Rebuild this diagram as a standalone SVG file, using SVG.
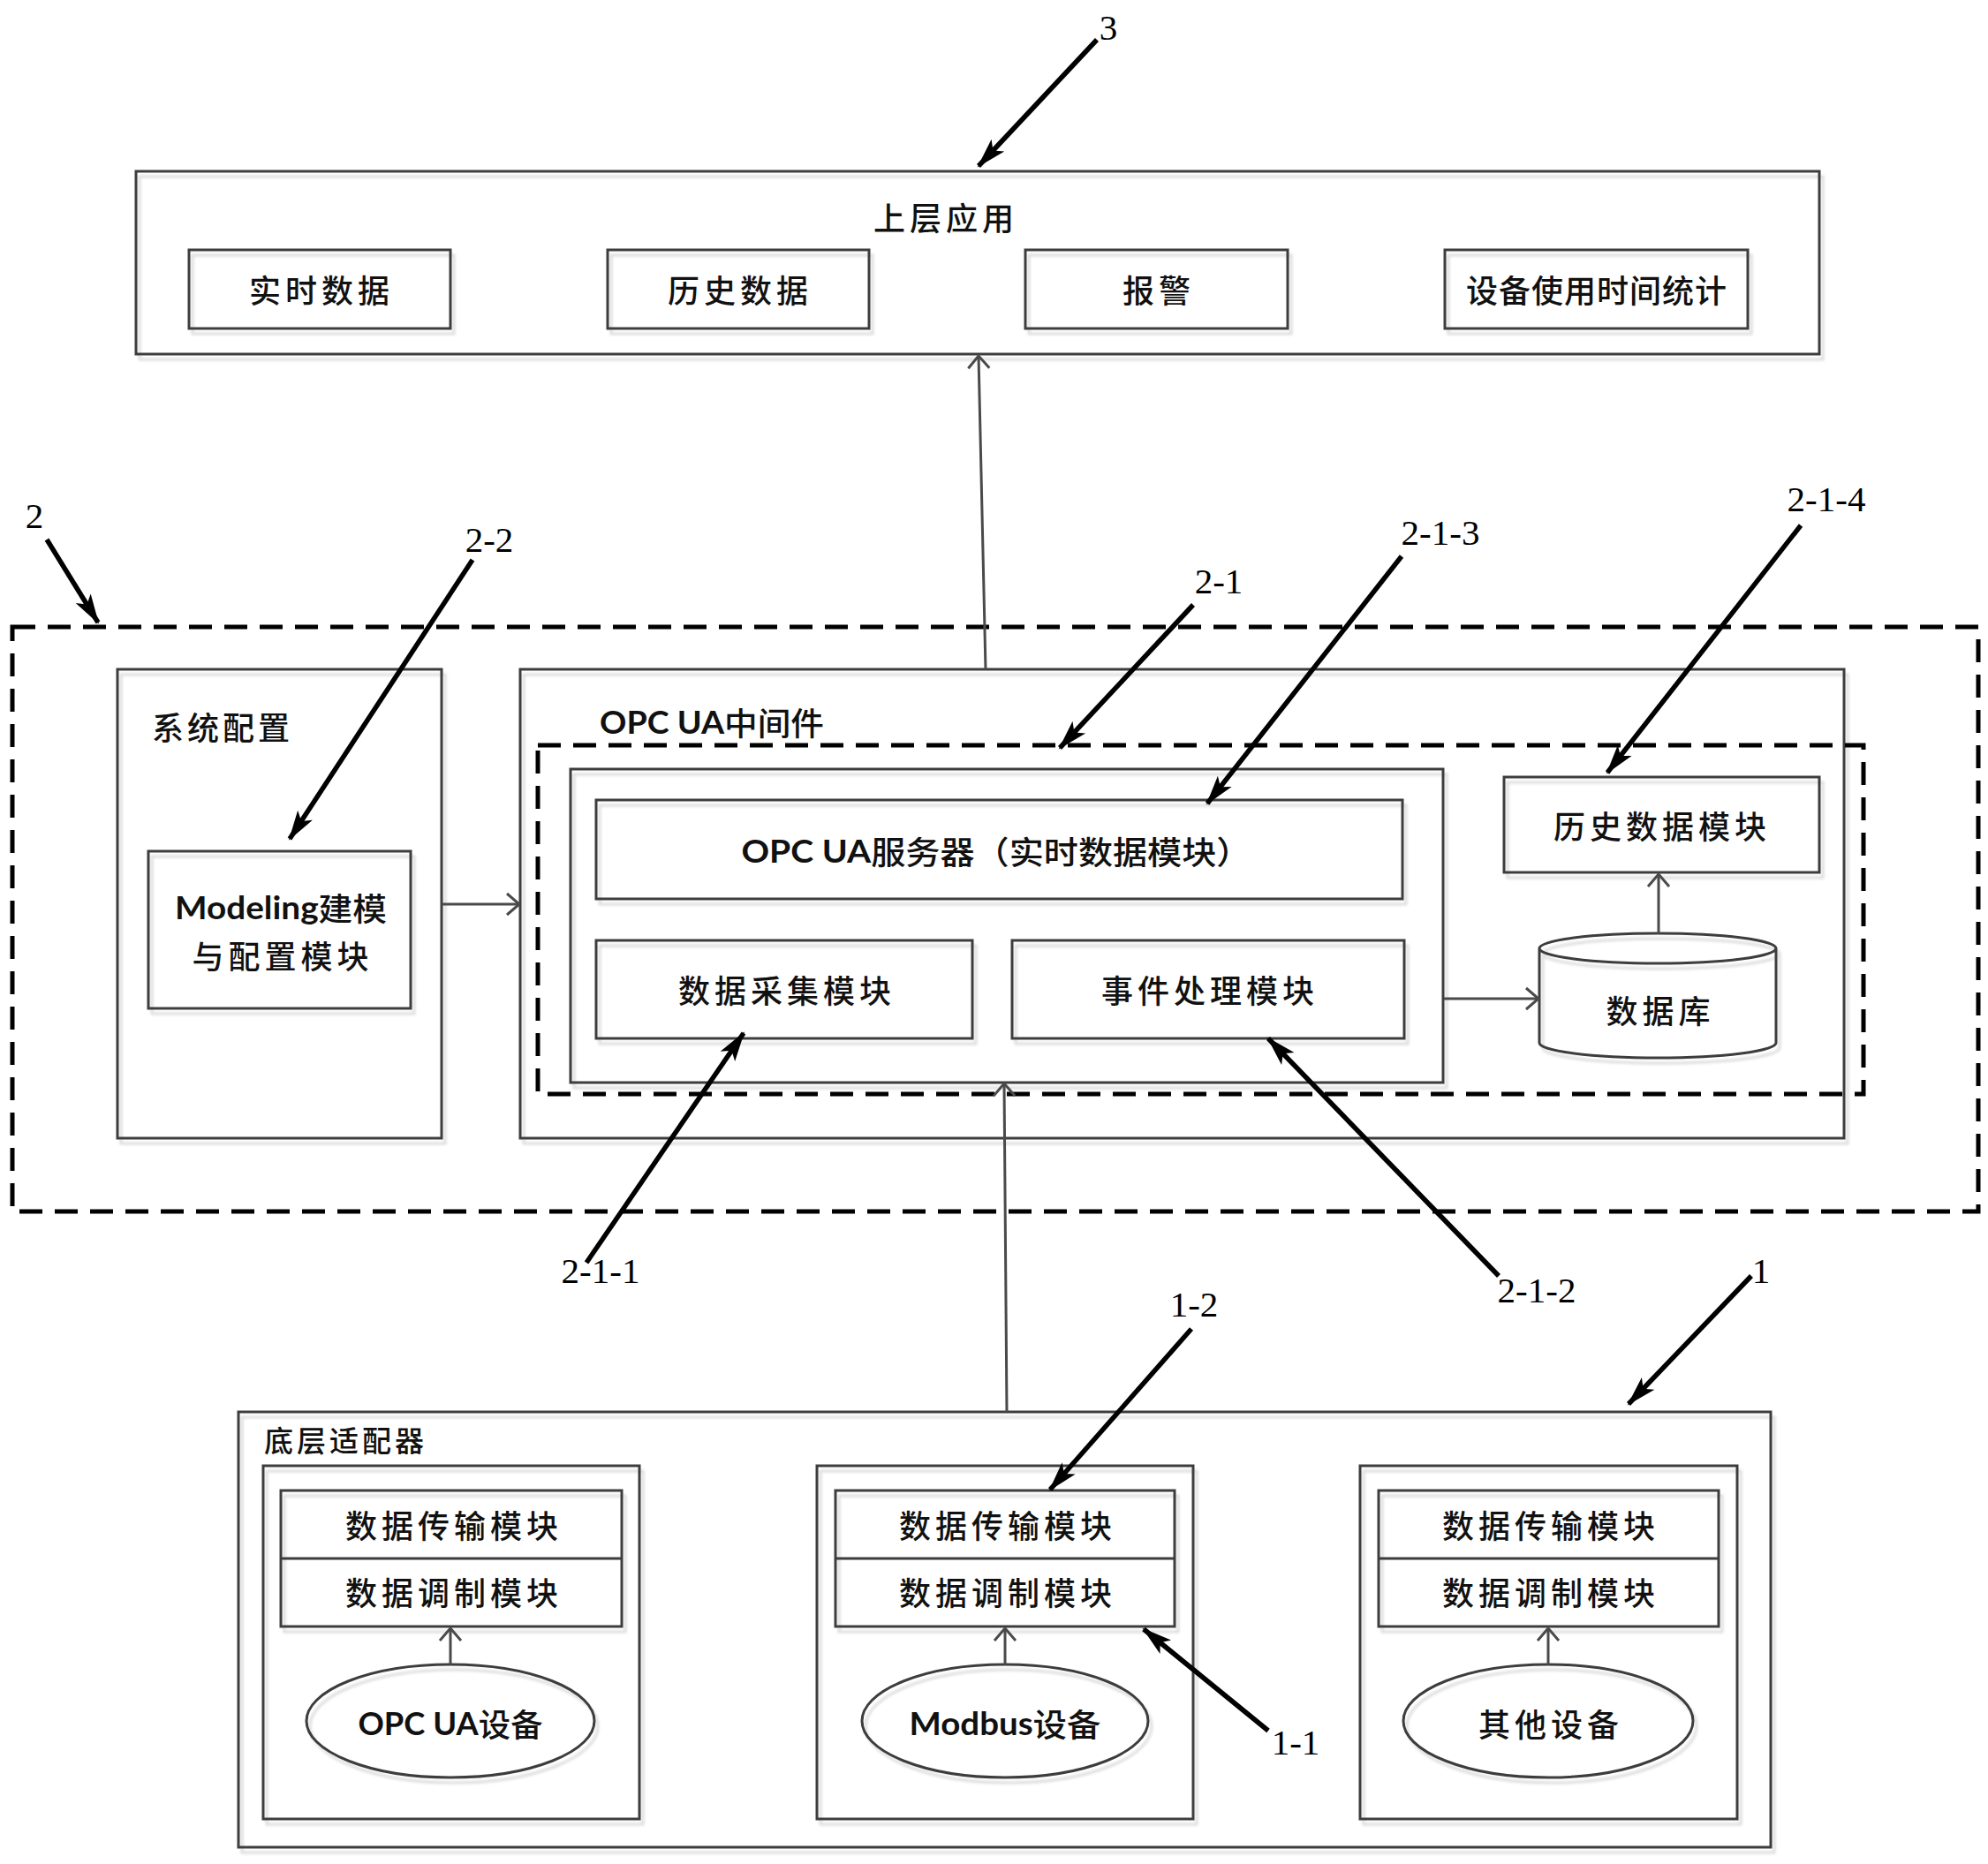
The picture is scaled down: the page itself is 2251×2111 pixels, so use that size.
<svg xmlns="http://www.w3.org/2000/svg" width="2251" height="2111" viewBox="0 0 2251 2111">
<style>
.box{fill:none;stroke:#3c3c3c;stroke-width:3;filter:url(#sh)}
.dash{fill:none;stroke:#000;stroke-width:5;stroke-dasharray:26 14}
.cn{fill:none;stroke:#4a4a4a;stroke-width:3;marker-end:url(#open)}
.co{fill:none;stroke:#000;stroke-width:5.5;marker-end:url(#solid)}
.zh{font-family:"Noto Sans CJK SC",sans-serif;font-size:36px;font-weight:500;fill:#111;text-anchor:middle;dominant-baseline:central;letter-spacing:5px}
.lab{font-family:"Liberation Serif",serif;font-size:41px;fill:#000;text-anchor:middle}
.mx{font-family:"Noto Sans CJK SC",sans-serif;font-size:36px;font-weight:500;fill:#111;dominant-baseline:central}
.lt{font-family:Lato,"Noto Sans",sans-serif;font-weight:bold}
</style>
<defs>
<filter id="sh" x="-3%" y="-3%" width="108%" height="112%">
<feOffset in="SourceAlpha" dx="4" dy="6" result="o"/>
<feGaussianBlur in="o" stdDeviation="1.5" result="b"/>
<feComponentTransfer in="b" result="c"><feFuncA type="linear" slope="0.14"/></feComponentTransfer>
<feMerge><feMergeNode in="c"/><feMergeNode in="SourceGraphic"/></feMerge>
</filter>
<marker id="open" markerUnits="userSpaceOnUse" markerWidth="40" markerHeight="40" viewBox="-20 -20 40 40" refX="0" refY="0" orient="auto">
<path d="M-14,-12 L0,0 L-14,12" fill="none" stroke="#4a4a4a" stroke-width="3"/>
</marker>
<marker id="solid" markerUnits="userSpaceOnUse" markerWidth="60" markerHeight="60" viewBox="-40 -30 60 60" refX="0" refY="0" orient="auto">
<path d="M2,0 L-32,-10 L-24,0 L-32,10 Z" fill="#000"/>
</marker>
</defs>
<rect width="2251" height="2111" fill="#fff"/>

<g id="upper-app">
<rect class="box" x="154" y="194" width="1906" height="207"/>
<text class="zh" x="1071" y="245" letter-spacing="4">上层应用</text>
</g>
<g id="realtime-data">
<rect class="box" x="214" y="283" width="296" height="89"/>
<text class="zh" x="364" y="327">实时数据</text>
</g>
<g id="history-data">
<rect class="box" x="688" y="283" width="296" height="89"/>
<text class="zh" x="838" y="327">历史数据</text>
</g>
<g id="alarm">
<rect class="box" x="1161" y="283" width="297" height="89"/>
<text class="zh" x="1312" y="327">报警</text>
</g>
<g id="usage-stat">
<rect class="box" x="1636" y="283" width="343" height="89"/>
<text class="zh" x="1808" y="327" style="letter-spacing:1px">设备使用时间统计</text>
</g>

<g id="middle-layer">
<rect class="dash" x="14" y="710" width="2226" height="662"/>
</g>
<g id="sys-config">
<rect class="box" x="133" y="758" width="367" height="531"/>
<text class="zh" x="172" y="822" style="text-anchor:start;letter-spacing:4px">系统配置</text>
</g>
<g id="modeling">
<rect class="box" x="168" y="964" width="297" height="178"/>
<text class="mx" x="318" y="1027" text-anchor="middle" textLength="240" lengthAdjust="spacingAndGlyphs"><tspan class="lt">Modeling</tspan>建模</text>
<text class="zh" x="320" y="1081">与配置模块</text>
</g>
<g id="opcua-middleware">
<rect class="box" x="589" y="758" width="1499" height="531"/>
<text class="mx" x="679" y="817" textLength="254" lengthAdjust="spacingAndGlyphs"><tspan class="lt">OPC UA</tspan>中间件</text>
</g>
<g id="core-2-1">
<rect class="dash" x="609" y="844" width="1501" height="395"/>
</g>
<g id="inner-core">
<rect class="box" x="646" y="871" width="988" height="355"/>
</g>
<g id="opcua-server">
<rect class="box" x="675" y="906" width="913" height="112"/>
<text class="mx" x="1128" y="963" text-anchor="middle" textLength="577" lengthAdjust="spacingAndGlyphs"><tspan class="lt">OPC UA</tspan>服务器（实时数据模块）</text>
</g>
<g id="data-collect">
<rect class="box" x="675" y="1065" width="426" height="111"/>
<text class="zh" x="891" y="1120">数据采集模块</text>
</g>
<g id="event-proc">
<rect class="box" x="1146" y="1065" width="444" height="111"/>
<text class="zh" x="1370" y="1120">事件处理模块</text>
</g>
<g id="history-module">
<rect class="box" x="1703" y="880" width="357" height="108"/>
<text class="zh" x="1882" y="934">历史数据模块</text>
</g>
<g id="database">
<path d="M1743,1074 A134,17 0 0 1 2011,1074 L2011,1181 A134,17 0 0 1 1743,1181 Z M1743,1074 A134,17 0 0 0 2011,1074" fill="none" stroke="#3c3c3c" stroke-width="3" filter="url(#sh)"/>
<text class="zh" x="1880" y="1143">数据库</text>
</g>

<g id="bottom-adapter">
<rect class="box" x="270" y="1599" width="1735" height="493"/>
<text class="zh" x="299" y="1630" style="text-anchor:start;font-size:33px;letter-spacing:4px">底层适配器</text>
</g>
<g id="adapter-opcua">
<rect class="box" x="298" y="1660" width="426" height="400"/>
<rect class="box" x="318" y="1688" width="386" height="154"/>
<line x1="318" y1="1765" x2="704" y2="1765" stroke="#3c3c3c" stroke-width="3"/>
<text class="zh" x="514" y="1726">数据传输模块</text>
<text class="zh" x="514" y="1802">数据调制模块</text>
<ellipse cx="510" cy="1949" rx="163" ry="64" fill="none" stroke="#3c3c3c" stroke-width="3" filter="url(#sh)"/>
<text class="mx" x="510" y="1951" text-anchor="middle" textLength="209" lengthAdjust="spacingAndGlyphs"><tspan class="lt">OPC UA</tspan>设备</text>
</g>
<g id="adapter-modbus">
<rect class="box" x="925" y="1660" width="426" height="400"/>
<rect class="box" x="946" y="1688" width="384" height="154"/>
<line x1="946" y1="1765" x2="1330" y2="1765" stroke="#3c3c3c" stroke-width="3"/>
<text class="zh" x="1141" y="1726">数据传输模块</text>
<text class="zh" x="1141" y="1802">数据调制模块</text>
<ellipse cx="1138" cy="1949" rx="162" ry="64" fill="none" stroke="#3c3c3c" stroke-width="3" filter="url(#sh)"/>
<text class="mx" x="1138" y="1951" text-anchor="middle" textLength="217" lengthAdjust="spacingAndGlyphs"><tspan class="lt">Modbus</tspan>设备</text>
</g>
<g id="adapter-other">
<rect class="box" x="1540" y="1660" width="427" height="400"/>
<rect class="box" x="1561" y="1688" width="385" height="154"/>
<line x1="1561" y1="1765" x2="1946" y2="1765" stroke="#3c3c3c" stroke-width="3"/>
<text class="zh" x="1756" y="1726">数据传输模块</text>
<text class="zh" x="1756" y="1802">数据调制模块</text>
<ellipse cx="1753" cy="1949" rx="164" ry="64" fill="none" stroke="#3c3c3c" stroke-width="3" filter="url(#sh)"/>
<text class="zh" x="1756" y="1951">其他设备</text>
</g>

<g id="connectors">
<line class="cn" x1="1116" y1="758" x2="1108" y2="403"/>
<line class="cn" x1="500" y1="1024" x2="588" y2="1024"/>
<line class="cn" x1="1635" y1="1131" x2="1742" y2="1131"/>
<line class="cn" x1="1878" y1="1057" x2="1878" y2="990"/>
<line class="cn" x1="1140" y1="1599" x2="1137" y2="1227"/>
<line class="cn" x1="510" y1="1885" x2="510" y2="1844"/>
<line class="cn" x1="1138" y1="1885" x2="1138" y2="1844"/>
<line class="cn" x1="1753" y1="1885" x2="1753" y2="1844"/>
</g>

<g id="callouts">
<line class="co" x1="1242" y1="45" x2="1108" y2="188"/>
<line class="co" x1="53" y1="611" x2="111" y2="705"/>
<line class="co" x1="535" y1="634" x2="328" y2="950"/>
<line class="co" x1="1351" y1="685" x2="1200" y2="847"/>
<line class="co" x1="1587" y1="630" x2="1367" y2="910"/>
<line class="co" x1="2039" y1="595" x2="1820" y2="875"/>
<line class="co" x1="664" y1="1430" x2="842" y2="1170"/>
<line class="co" x1="1697" y1="1445" x2="1436" y2="1176"/>
<line class="co" x1="1983" y1="1445" x2="1844" y2="1590"/>
<line class="co" x1="1349" y1="1505" x2="1189" y2="1687"/>
<line class="co" x1="1436" y1="1960" x2="1295" y2="1845"/>
</g>

<g id="labels">
<text class="lab" x="1255" y="45">3</text>
<text class="lab" x="39" y="598">2</text>
<text class="lab" x="554" y="625">2-2</text>
<text class="lab" x="1380" y="672">2-1</text>
<text class="lab" x="1631" y="617">2-1-3</text>
<text class="lab" x="2068" y="579">2-1-4</text>
<text class="lab" x="680" y="1453">2-1-1</text>
<text class="lab" x="1740" y="1475">2-1-2</text>
<text class="lab" x="1994" y="1453">1</text>
<text class="lab" x="1352" y="1491">1-2</text>
<text class="lab" x="1467" y="1987">1-1</text>
</g>
</svg>
